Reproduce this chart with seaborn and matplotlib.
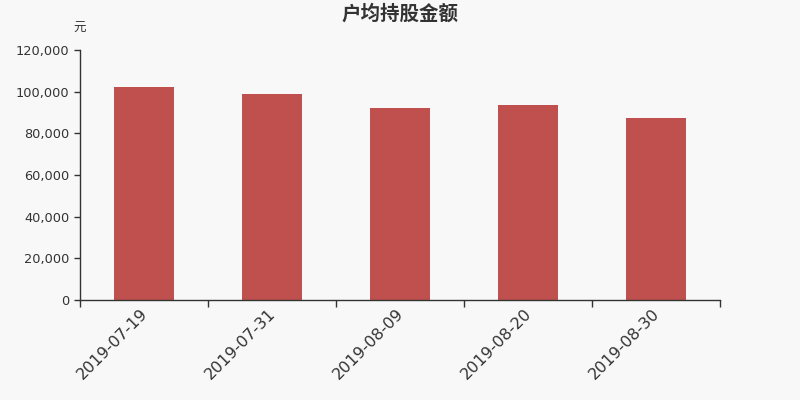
import matplotlib
matplotlib.use("Agg")
import matplotlib.pyplot as plt
import matplotlib.transforms as mtransforms
import seaborn as sns
import pandas as pd
from matplotlib.ticker import FuncFormatter, FixedLocator

dates = ["2019-07-19", "2019-07-31", "2019-08-09", "2019-08-20", "2019-08-30"]
values = [102200, 98700, 92150, 93450, 87600]
title = "户均持股金额"
unit = "元"

sns.set_theme(style="white")
plt.rcParams['font.family'] = ['DejaVu Sans', 'Noto Sans CJK SC']

bg = "#f8f8f8"
fig = plt.figure(figsize=(8, 4), dpi=100, facecolor=bg)
ax = fig.add_axes([0.1, 0.25, 0.8, 0.625])
ax.set_facecolor(bg)

df = pd.DataFrame({"date": dates, "value": values})
sns.barplot(data=df, x="date", y="value", color="#c0504d", saturation=1,
            width=60/128, linewidth=0, ax=ax)

ax.set_xlim(-0.5, len(dates) - 0.5)
ax.set_ylim(0, 120000)
ax.yaxis.set_major_locator(FixedLocator(list(range(0, 120001, 20000))))
ax.yaxis.set_major_formatter(FuncFormatter(lambda v, p: f"{int(v):,}"))

for s in ["top", "right"]:
    ax.spines[s].set_visible(False)
for s in ["left", "bottom"]:
    ax.spines[s].set_color("#333333")
    ax.spines[s].set_linewidth(1)

ax.set_xlabel("")
ax.set_ylabel("")
ax.tick_params(axis="y", which="major", direction="out", length=4.5, width=1,
               color="#333333", labelcolor="#333333", labelsize=9.3, pad=3, left=True)
ax.tick_params(axis="x", which="major", length=0, labelcolor="#333333",
               labelsize=11.5, pad=4)
ax.xaxis.set_minor_locator(FixedLocator([i - 0.5 for i in range(len(dates) + 1)]))
ax.tick_params(axis="x", which="minor", direction="out", length=5, width=1,
               color="#333333", bottom=True)
offset = mtransforms.ScaledTranslation(-4 / 100, 0, fig.dpi_scale_trans)
for lbl in ax.get_xticklabels():
    lbl.set_rotation(45)
    lbl.set_ha("right")
    lbl.set_rotation_mode("anchor")
    lbl.set_transform(lbl.get_transform() + offset)

fig.text(0.5, 0.965, title, ha="center", va="center", fontsize=14,
         fontweight="bold", color="#333333", family=["Noto Sans CJK SC", "DejaVu Sans"])
fig.text(0.099, 0.93, unit, ha="center", va="center", fontsize=9,
         color="#333333", family=["Noto Sans CJK SC", "DejaVu Sans"])

fig.savefig("out.png", dpi=100, facecolor=bg)
